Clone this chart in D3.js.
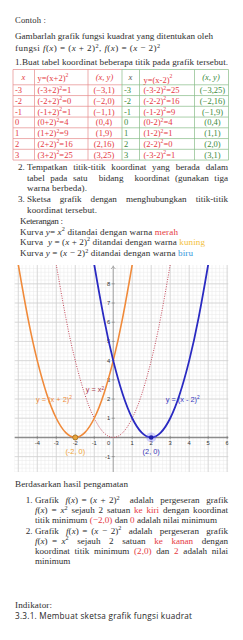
<!DOCTYPE html>
<html><head><meta charset="utf-8">
<script src="https://cdn.jsdelivr.net/npm/d3@7"></script>
<style>html,body{margin:0;padding:0;background:#fff;overflow:hidden}text{white-space:pre}</style>
</head><body><svg id="c" width="243" height="640"></svg>
<script>
// ---------- data ----------
const tableX = [-3, -2, -1, 0, 1, 2, 3];
const tableYPlus = [1, 0, 1, 4, 9, 16, 25];
const tableBaseMinus = ["(-3-2)", "(-2-2)", "(-1-2)", "(0-2)", "(1-2)", "(2-2)", "(-3-2)"];
const tableYMinus = [25, 16, 9, 4, 1, 0, 1];

const xOrange = [-5.1, -5, -4.5, -4, -3.5, -3, -2.5, -2, -1.5, -1, -0.5, 0, 0.5, 1, 1.1];
const yOrange = [9.61, 9, 6.25, 4, 2.25, 1, 0.25, 0, 0.25, 1, 2.25, 4, 6.25, 9, 9.61];
const xRed = [-3.1, -3, -2.5, -2, -1.5, -1, -0.5, 0, 0.5, 1, 1.5, 2, 2.5, 3, 3.1];
const yRed = [9.61, 9, 6.25, 4, 2.25, 1, 0.25, 0, 0.25, 1, 2.25, 4, 6.25, 9, 9.61];
const xBlue = [-1.1, -1, -0.5, 0, 0.5, 1, 1.5, 2, 2.5, 3, 3.5, 4, 4.5, 5, 5.1];
const yBlue = [9.61, 9, 6.25, 4, 2.25, 1, 0.25, 0, 0.25, 1, 2.25, 4, 6.25, 9, 9.61];
const vertexX = [-2, 2];
const vertexY = [0, 0];
const xTicks = [-4, -3, -2, -1, 1, 2, 3, 4, 5, 6];
const yTicks = [-1, 1, 2, 3, 4, 5, 6, 7, 8];

const RED = "#e5393f", GREEN = "#3b8b3b", YEL = "#f3bf3c", BLUE = "#3497dc", TXT = "#2e2e2e";
const SERIF = "'Liberation Serif', serif";
const BS = 9.1;
const svg = d3.select("#c");

// ---------- text helper ----------
function line(x, y, segs, opt = {}) {
  const size = opt.size || BS;
  const t = svg.append("text").attr("x", x).attr("y", y)
    .attr("font-family", opt.font || SERIF).attr("font-size", size)
    .attr("fill", opt.fill || TXT).attr("text-anchor", opt.anchor || "start");
  if (opt.weight) t.attr("font-weight", opt.weight);
  let up = 0;
  segs.forEach(s => {
    if (typeof s === "string") s = { t: s };
    const ts = t.append("tspan").text(s.t);
    if (s.c) ts.attr("fill", s.c);
    if (s.i) ts.attr("font-style", "italic");
    if (s.s) { ts.attr("dy", -(s.h || 3.3)).attr("font-size", size * 0.68); up = (s.h || 3.3); }
    else if (up) { ts.attr("dy", up); up = 0; }
  });
  if (opt.w) {
    const n = t.node(); const w = n.getComputedTextLength(); const txt = n.textContent;
    if (opt.j) {
      const sp = (txt.match(/ /g) || []).length;
      if (sp) t.attr("word-spacing", (opt.w - w) / sp);
    } else {
      t.attr("letter-spacing", (opt.w - w) / Math.max(1, txt.length - 1));
    }
  }
  return t;
}
const I = t => ({ t, i: true });
const S = t => ({ t, s: true });
const C = (t, c) => ({ t, c });

// ---------- header text ----------
line(15, 23, ["Contoh :"], { size: 8.6, w: 31 });
line(15, 38.5, ["Gambarlah grafik fungsi kuadrat yang ditentukan oleh"], { w: 198 });
line(15, 51, ["fungsi ", I("f"), "(", I("x"), ") = (", I("x"), " + 2)", S("2"), ", ", I("f"), "(", I("x"), ") = (", I("x"), " − 2)", S("2")], { w: 145 });
line(15, 65, ["1.Buat tabel koordinat beberapa titik pada grafik tersebut."], { w: 213 });

// ---------- table ----------
const colB = [13, 34.5, 88, 122, 139.5, 194.5, 228.5];
const headTop = 69.5, rowTop = 84.8, rowH = 10.75;
const tb = svg.append("g");
const nRows = tableX.length;
const bottom = rowTop + nRows * rowH;
[headTop, ...d3.range(nRows + 1).map(i => rowTop + i * rowH)].forEach(yy => {
  tb.append("line").attr("x1", colB[0]).attr("x2", colB[3]).attr("y1", yy).attr("y2", yy).attr("stroke", "#e58a8a").attr("stroke-width", 0.7);
  tb.append("line").attr("x1", colB[3]).attr("x2", colB[6]).attr("y1", yy).attr("y2", yy).attr("stroke", "#86bb86").attr("stroke-width", 0.7);
});
colB.forEach((xx, i) => {
  tb.append("line").attr("x1", xx).attr("x2", xx).attr("y1", headTop).attr("y2", bottom)
    .attr("stroke", i < 3 ? "#e58a8a" : "#86bb86").attr("stroke-width", 0.7);
});
const TS = 8.5;
line(23.5, 80, [I("x")], { fill: RED, anchor: "middle", size: TS });
line(37.5, 80.5, ["y=(x+2)", { t: "2", s: true, h: 3.6 }], { fill: RED, size: TS });
line(104.5, 80, [I("(x, y)")], { fill: RED, anchor: "middle", size: TS });
line(130.5, 80, [I("x")], { fill: "#555", anchor: "middle", size: TS });
line(143.5, 83, ["y=(x-2)", { t: "2", s: true, h: 5 }], { fill: RED, size: TS });
line(211, 80, [I("(x, y)")], { fill: GREEN, anchor: "middle", size: TS });

svg.append("clipPath").attr("id", "tclip").append("rect")
  .attr("x", colB[5]).attr("y", headTop).attr("width", colB[6] - colB[5] - 0.5).attr("height", bottom - headTop);
const fm = v => (v < 0 ? "−" + (-v) : "" + v);
tableX.forEach((xv, i) => {
  const by = rowTop + i * rowH + 8.2;
  line(15, by, ["" + xv], { fill: RED, size: TS });
  line(37.5, by, ["(" + xv + "+2)", S("2"), "=" + tableYPlus[i]], { fill: RED, size: TS });
  line(104, by, ["(" + fm(xv) + "," + tableYPlus[i] + ")"], { fill: RED, size: TS, anchor: "middle" });
  line(124, by, ["" + xv], { fill: GREEN, size: TS });
  line(143.5, by, [tableBaseMinus[i], S("2"), "=" + tableYMinus[i]], { fill: RED, size: TS });
  line(212.5, by, ["(" + fm(xv) + "," + tableYMinus[i] + ")"], { fill: GREEN, size: TS, anchor: "middle" })
    .attr("clip-path", "url(#tclip)");
});

// ---------- steps ----------
line(18, 169.5, ["2."]);
line(27, 169.5, ["Tempatkan titik-titik koordinat yang berada dalam"], { w: 201, j: true });
line(27, 180.5, ["tabel pada satu  bidang  koordinat (gunakan tiga"], { w: 201, j: true });
line(27, 190.5, ["warna berbeda)."], { w: 60 });
line(18, 201.5, ["3."]);
line(27, 201.5, ["Sketsa grafik dengan menghubungkan titik-titik"], { w: 201, j: true });
line(27, 213, ["koordinat tersebut."], { w: 70 });
line(20, 224, ["Keterangan :"], { w: 43 });
line(20, 234.5, ["Kurva ", I("y"), "= ", I("x"), S("2"), " ditandai dengan warna ", C("merah", RED)], { w: 158 });
line(20, 244.5, ["Kurva  ", I("y"), " = (", I("x"), " + 2)", S("2"), " ditandai dengan warna ", C("kuning", YEL)], { w: 185 });
line(20, 256, ["Kurva ", I("y"), " = (", I("x"), " − 2)", S("2"), " ditandai dengan warna ", C("biru", BLUE)], { w: 173 });

// ---------- chart ----------
const X0 = 14.5, X1 = 228.5, Y0 = 265, Y1 = 472;
const x = d3.scaleLinear().domain([-5.2, 6.07]).range([X0, X1]);
const y = d3.scaleLinear().domain([-1.8, 8.98]).range([Y1, Y0]);
svg.append("clipPath").attr("id", "cclip").append("rect").attr("x", X0).attr("y", Y0).attr("width", X1 - X0).attr("height", Y1 - Y0);
const ch = svg.append("g").attr("clip-path", "url(#cclip)");
ch.append("rect").attr("x", X0).attr("y", Y0).attr("width", X1 - X0).attr("height", Y1 - Y0).attr("fill", "#fff");
d3.range(-26, 31).forEach(k => ch.append("line").attr("x1", x(k / 5)).attr("x2", x(k / 5)).attr("y1", Y0).attr("y2", Y1).attr("stroke", "#e9e9e9").attr("stroke-width", 0.5));
d3.range(-9, 45).forEach(k => ch.append("line").attr("y1", y(k / 5)).attr("y2", y(k / 5)).attr("x1", X0).attr("x2", X1).attr("stroke", "#e9e9e9").attr("stroke-width", 0.5));
d3.range(-5, 7).forEach(k => ch.append("line").attr("x1", x(k)).attr("x2", x(k)).attr("y1", Y0).attr("y2", Y1).attr("stroke", "#cfcfcf").attr("stroke-width", 0.7));
d3.range(-1, 9).forEach(k => ch.append("line").attr("y1", y(k)).attr("y2", y(k)).attr("x1", X0).attr("x2", X1).attr("stroke", "#cfcfcf").attr("stroke-width", 0.7));
ch.append("line").attr("x1", X0).attr("x2", X1).attr("y1", y(0)).attr("y2", y(0)).attr("stroke", "#8c8c8c").attr("stroke-width", 1.6);
ch.append("line").attr("x1", x(0)).attr("x2", x(0)).attr("y1", Y0 + 1).attr("y2", Y1).attr("stroke", "#9a9a9a").attr("stroke-width", 0.8);
ch.append("path").attr("d", `M${x(0) - 2.2},${Y0 + 4} L${x(0)},${Y0 + 1.5} L${x(0) + 2.2},${Y0 + 4}`).attr("fill", "none").attr("stroke", "#9a9a9a").attr("stroke-width", 0.8);
xTicks.forEach(v => ch.append("line").attr("x1", x(v)).attr("x2", x(v)).attr("y1", y(0) - 1.5).attr("y2", y(0) + 1.5).attr("stroke", "#777").attr("stroke-width", 0.6));
yTicks.forEach(v => ch.append("line").attr("y1", y(v)).attr("y2", y(v)).attr("x1", x(0) - 1.5).attr("x2", x(0) + 1.5).attr("stroke", "#777").attr("stroke-width", 0.6));
const TF = "'Liberation Sans', sans-serif";
xTicks.forEach(v => ch.append("text").attr("x", x(v)).attr("y", y(0) + 7.5).attr("text-anchor", "middle")
  .attr("font-family", TF).attr("font-size", 5.8).attr("fill", "#333").text(v < 0 ? "-" + (-v) : v));
ch.append("text").attr("x", x(0) - 3).attr("y", y(0) + 7.5).attr("text-anchor", "end").attr("font-family", TF).attr("font-size", 5.8).attr("fill", "#333").text("0");
yTicks.forEach(v => ch.append("text").attr("x", x(0) - 3).attr("y", y(v) + 2).attr("text-anchor", "end")
  .attr("font-family", TF).attr("font-size", 5.8).attr("fill", "#333").text(v < 0 ? "-" + (-v) : v));
const gen = d3.line().x(d => x(d[0])).y(d => y(d[1])).curve(d3.curveNatural);
ch.append("path").attr("d", gen(d3.zip(xRed, yRed))).attr("fill", "none").attr("stroke", "#c44a5c").attr("stroke-width", 1).attr("stroke-dasharray", "1,1.4");
ch.append("path").attr("d", gen(d3.zip(xOrange, yOrange))).attr("fill", "none").attr("stroke", "#f08a3a").attr("stroke-width", 1.6);
ch.append("path").attr("d", gen(d3.zip(xBlue, yBlue))).attr("fill", "none").attr("stroke", "#2a2ac2").attr("stroke-width", 1.8);
ch.append("circle").attr("cx", x(vertexX[1])).attr("cy", y(vertexY[1])).attr("r", 5).attr("fill", "#6f6fff").attr("opacity", 0.3);
ch.append("circle").attr("cx", x(vertexX[1])).attr("cy", y(vertexY[1])).attr("r", 2.3).attr("fill", "#1e1ea8");
ch.append("circle").attr("cx", x(vertexX[0])).attr("cy", y(vertexY[0])).attr("r", 2.6).attr("fill", "#e8a238").attr("stroke", "#7a5a22").attr("stroke-width", 0.6);
const LF = "'Liberation Sans', sans-serif";
function clab(px, py, segs, col, anchor) {
  const t = ch.append("text").attr("x", x(px)).attr("y", y(py)).attr("font-family", LF).attr("font-size", 7.4).attr("fill", col).attr("text-anchor", anchor || "start");
  segs.forEach(s => {
    if (s.s) t.append("tspan").attr("dy", -2.6).attr("font-size", 4.8).text(s.t);
    else t.append("tspan").text(s);
  });
}
clab(-4.07, 1.87, ["y = (x + 2)", { t: "2", s: true }], "#f08a3a");
clab(-1.45, 2.35, ["y = x", { t: "2", s: true }], "#a8334c");
clab(2.76, 1.87, ["y = (x - 2)", { t: "2", s: true }], "#3535c0");
clab(vertexX[0], -0.85, ["(-2, 0)"], "#f0a534", "middle");
clab(vertexX[1], -0.85, ["(2, 0)"], "#3a3ab8", "middle");

// ---------- conclusions ----------
line(15, 487, ["Berdasarkan hasil pengamatan"], { w: 113 });
line(25.7, 503, ["1."]);
line(35, 503, ["Grafik  ", I("f"), "(", I("x"), ") = (", I("x"), " + 2)", S("2"), "   adalah  pergeseran  grafik"], { w: 193, j: true });
line(35, 513.3, [I("f"), "(", I("x"), ") = ", I("x"), S("2"), " sejauh 2 satuan ", C("ke kiri", RED), " dengan koordinat"], { w: 193, j: true });
line(35, 523.3, ["titik minimum ", C("(−2,0)", RED), " dan ", C("0", RED), " adalah nilai minimum"], { w: 182 });
line(25.7, 533.7, ["2."]);
line(35, 533.7, ["Grafik  ", I("f"), "(", I("x"), ") = (", I("x"), " − 2)", S("2"), "  adalah  pergeseran  grafik"], { w: 193, j: true });
line(35, 543.7, [I("f"), "(", I("x"), ") = ", I("x"), S("2"), "  sejauh  2  satuan  ", C("ke  kanan", RED), "  dengan"], { w: 193, j: true });
line(35, 553.7, ["koordinat titik minimum ", C("(2,0)", RED), " dan ", C("2", RED), " adalah nilai"], { w: 193, j: true });
line(35, 563.7, ["minimum"]);
line(15, 608, ["Indikator:"], { w: 37 });
line(15, 619, ["3.3.1. Membuat sketsa grafik fungsi kuadrat"], { font: "'Open Sans', sans-serif", size: 8.2, w: 177, fill: "#262626" });
</script></body></html>
